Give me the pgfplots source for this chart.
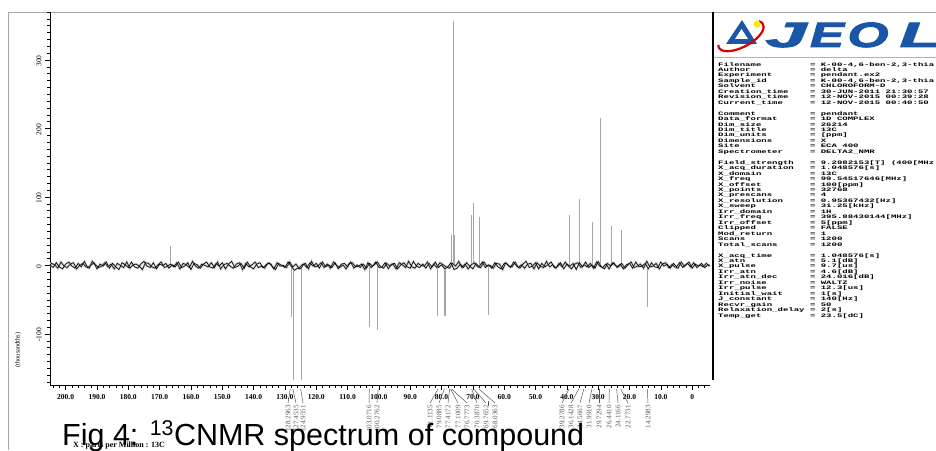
\documentclass[border=0pt]{standalone}
\usepackage{pgfplots}
\pgfplotsset{compat=1.18}
\usepackage{pgfplotstable}
\usepackage{fontspec}
\setmainfont{Liberation Serif}
\newfontfamily\capfont{Liberation Sans}
\newfontfamily\parfont{Liberation Mono}
\newfontfamily\logofont[BoldItalicFeatures={FakeBold=2.5}]{Liberation Sans}
\definecolor{jeolblue}{RGB}{26,86,168}

\pgfplotstableread{
x y
206 0
205 1
204 -3
203 4
202 -2
201 -5
200 2
199 5
198 -1
197 -4
196 3
195 -2
194 6
193 -3
192 0
191 4
190 -5
189 2
188 -1
187 5
186 -4
185 3
184 -2
183 -6
182 4
181 1
180 -3
179 5
178 -2
177 -4
176 2
175 6
174 -1
173 -3
172 4
171 -5
170 2
169 0
168 3
167 -4
166 1
165 -2
164 5
163 -3
162 -1
161 4
160 -6
159 3
158 1
157 -4
156 2
155 5
154 -2
153 -4
152 3
151 -1
150 4
149 -5
148 2
147 6
146 -3
145 -1
144 3
143 -4
142 5
141 -2
140 -5
139 2
138 4
137 -3
136 1
135 4
134 -2
133 -6
132 3
131 0
130 -3
129 5
128 -1
127 -7
126 -4
125 -5
124 2
123 -3
122 4
121 -1
120 3
119 -4
118 5
117 -2
116 1
115 -3
114 4
113 -5
112 2
111 3
110 -2
109 5
108 -4
107 1
106 -3
105 2
104 -4
103 3
102 -1
101 5
100 -3
99 -2
98 4
97 -5
96 2
95 3
94 -5
93 1
92 4
91 -2
90 -4
89 6
88 -1
87 -3
86 2
85 -4
84 3
83 -2
82 5
81 -3
80 1
79 -5
78 -2
77 4
76 -6
75 -4
74 2
73 -3
72 4
71 -1
70 -5
69 3
68 -2
67 5
66 -3
65 1
64 -4
63 4
62 -2
61 -5
60 3
59 2
58 -3
57 5
56 -1
55 -4
54 2
53 6
52 -3
51 -1
50 4
49 -5
48 3
47 -2
46 1
45 5
44 -3
43 -2
42 4
41 -5
40 2
39 -1
38 3
37 -6
36 4
35 -2
34 5
33 -3
32 1
31 -4
30 6
29 -2
28 -5
27 3
26 -1
25 4
24 -3
23 2
22 -5
21 1
20 3
19 -4
18 5
17 -2
16 -1
15 3
14 -5
13 4
12 -2
11 -3
10 5
9 -1
8 2
7 -4
6 3
5 -2
4 4
3 -3
2 1
1 5
0 -4
-1 2
-2 -1
-3 3
-4 -3
-5 1
-6 0
}\noiseA

\pgfplotstableread{
x y
205.5 -2
204.5 3
203.5 1
202.5 -4
201.5 5
200.5 -1
199.5 -3
198.5 2
197.5 4
196.5 -5
195.5 0
194.5 3
193.5 -2
192.5 -4
191.5 6
190.5 1
189.5 -3
188.5 -1
187.5 4
186.5 -2
185.5 2
184.5 -5
183.5 3
182.5 0
181.5 -3
180.5 5
179.5 -4
178.5 1
177.5 2
176.5 -1
175.5 -6
174.5 4
173.5 3
172.5 -2
171.5 -4
170.5 1
169.5 5
168.5 -3
167.5 -1
166.5 2
165.5 -2
164.5 4
163.5 -5
162.5 3
161.5 1
160.5 -3
159.5 6
158.5 -1
157.5 -4
156.5 2
155.5 0
154.5 -2
153.5 4
152.5 -3
151.5 5
150.5 -5
149.5 1
148.5 3
147.5 -1
146.5 -4
145.5 2
144.5 4
143.5 -6
142.5 3
141.5 -2
140.5 1
139.5 5
138.5 -3
137.5 -1
136.5 -4
135.5 3
134.5 2
133.5 -5
132.5 4
131.5 -1
130.5 0
129.5 -3
128.5 5
127.5 -2
126.5 2
125.5 -4
124.5 1
123.5 3
122.5 -5
121.5 6
120.5 -2
119.5 -1
118.5 4
117.5 -3
116.5 2
115.5 -4
114.5 5
113.5 0
112.5 -3
111.5 1
110.5 -5
109.5 3
108.5 4
107.5 -2
106.5 -1
105.5 2
104.5 -6
103.5 4
102.5 -3
101.5 1
100.5 5
99.5 -2
98.5 -4
97.5 3
96.5 -1
95.5 2
94.5 -5
93.5 4
92.5 1
91.5 -3
90.5 6
89.5 -2
88.5 -4
87.5 3
86.5 0
85.5 -1
84.5 5
83.5 -5
82.5 2
81.5 -3
80.5 4
79.5 1
78.5 -2
77.5 -4
76.5 3
75.5 -1
74.5 6
73.5 -3
72.5 2
71.5 -5
70.5 1
69.5 4
68.5 -2
67.5 -3
66.5 5
65.5 -1
64.5 0
63.5 -4
62.5 3
61.5 2
60.5 -6
59.5 4
58.5 -1
57.5 -2
56.5 5
55.5 -3
54.5 1
53.5 -4
52.5 2
51.5 3
50.5 -5
49.5 4
48.5 -1
47.5 -3
46.5 6
45.5 -2
44.5 1
43.5 -4
42.5 3
41.5 -2
40.5 5
39.5 -1
38.5 -5
37.5 2
36.5 4
35.5 -3
34.5 1
33.5 -2
32.5 3
31.5 -4
30.5 5
29.5 -1
28.5 -3
27.5 2
26.5 -5
25.5 4
24.5 0
23.5 -2
22.5 3
21.5 -4
20.5 1
19.5 5
18.5 -3
17.5 -1
16.5 2
15.5 -4
14.5 6
13.5 -2
12.5 -1
11.5 3
10.5 -5
9.5 2
8.5 4
7.5 -3
6.5 1
5.5 -2
4.5 -4
3.5 5
2.5 -1
1.5 3
0.5 -2
-0.5 4
-1.5 -3
-2.5 1
-3.5 -2
-4.5 3
-5.5 -1
}\noiseB

\pgfplotstableread{
x y
166.7 28
127.9 -75
127.2 -167
124.7 -167
103.1 -90
100.4 -94
81.4 -74
79.2 -74
78.7 -74
76.9 45
76.3 357
75.8 45
70.5 74
69.9 91
68.0 71
65.1 -72
39.2 74
36.1 97
31.7 64
29.3 215
25.9 57
22.6 52
14.2 -60
}\peaks

\begin{document}
\begin{tikzpicture}[x=1pt,y=1pt]
\useasboundingbox (0,0) rectangle (936,450);
\fill[white] (0,0) rectangle (936,450);
\draw[gray!70, line width=0.8pt] (8,438) -- (936,438);
\draw[gray!70, line width=0.8pt] (8,438) -- (8,0);

\begin{axis}[
  at={(50pt,65pt)}, anchor=south west, scale only axis,
  width=660pt, height=373pt,
  xmin=-5.7, xmax=205, x dir=reverse,
  ymin=-174.5, ymax=370,
  axis x line=bottom, axis y line=left,
  axis line style={-, line width=0.6pt, black},
  tick align=outside,
  xtick={-10,0,10,...,210},
  xticklabels={,0,10.0,20.0,30.0,40.0,50.0,60.0,70.0,80.0,90.0,100.0,110.0,120.0,130.0,140.0,150.0,160.0,170.0,180.0,190.0,200.0,},
  minor x tick num=4,
  ytick={-200,-100,0,100,200,300,400},
  yticklabels={,-100,0,100,200,300,},
  minor y tick num=9,
  major tick length=5pt, minor tick length=2.5pt,
  tick style={black, line width=0.4pt},
  xticklabel style={font=\fontsize{7.5}{8}\selectfont\bfseries, yshift=-1pt},
  yticklabel style={rotate=90, anchor=south, font=\fontsize{7.5}{8}\selectfont, xshift=-1pt},
]
\addplot[ycomb, gray!70, line width=0.7pt, no markers] table[x=x,y=y]{\peaks};
\addplot[gray!50, line width=2.2pt, no markers] table[x=x,y=y]{\noiseB};
\addplot[gray!50, line width=1.6pt, no markers] table[x=x,y=y]{\noiseA};
\addplot[black, line width=0.6pt, no markers] table[x=x,y=y]{\noiseA};
\addplot[black, line width=0.55pt, no markers] table[x=x,y=y]{\noiseB};
\end{axis}

% y label
\node[rotate=90, font=\fontsize{6.5}{7}\selectfont] at (18,100) {(thousandths)};

% peak leader lines and labels
\begin{scope}[gray!70!black, line width=0.5pt]
\foreach \ox/\lx/\t in {290.3/288/128.2963, 292.9/296/127.4535, 300.7/303/124.9551,
  369.3/369/103.0716, 378.1/377/100.2762,
  438.0/430/81.1135, 444.4/439/79.0885, 449.6/448/77.4172, 450.6/458/77.1009, 451.6/467/76.7773,
  471.6/477/70.3870, 473.6/486/69.7652, 479.0/495/68.0363,
  569.0/562/39.2786, 578.8/571/36.1428, 583.8/580/34.5667, 591.9/589/31.9910, 599.0/599/29.7294,
  609.3/609/26.4410, 616.6/618/24.1166, 620.8/628/22.7731, 647.3/648/14.2983}
{
  \draw (\ox,61) -- (\lx,47);
  \node[rotate=90, anchor=east, inner sep=0, font=\fontsize{7}{7}\selectfont] at (\lx,45) {\t};
}
\draw (488,49) -- (488,44);
\end{scope}

% axis unit text and caption
\node[anchor=north west, inner sep=0, font=\fontsize{8}{8}\selectfont\bfseries] at (73,8) {X : parts per Million : 13C};
\node[anchor=base west, inner sep=0, font=\capfont\fontsize{30.5}{31}\selectfont] at (62,5) {Fig 4: \textsuperscript{13}CNMR spectrum of compound};

% right panel
\draw[black, line width=1.4pt] (713,438) -- (713,70);
\draw[gray!60, line width=0.6pt] (714,393) -- (936,393);

% logo
\fill[jeolblue] (742,430) -- (726,406) -- (757,406) -- cycle;
\fill[white] (741.5,421) -- (735,411) -- (748,411) -- cycle;
\draw[red!85!black, line width=2.2pt, rotate around={28:(741,414)}]
  ([shift={(165:25 and 11)}]741,414) arc[start angle=165, end angle=385, x radius=25, y radius=11];
\fill[yellow!90!orange] (757,426) circle (3.5);
\foreach \cx/\sx/\l in {786/2.1/J, 827/1.45/E, 868/1.5/O, 920/1.9/L}
  \node[anchor=base, inner sep=0, text=jeolblue] at (\cx,403) {\scalebox{\sx}[1]{\logofont\fontsize{35}{35}\selectfont\bfseries\itshape \l}};

% parameter block
\node[anchor=north west, inner sep=0] at (718,388) {\scalebox{1}[0.58]{\parfont\bfseries\fontsize{9.0}{9.4}\selectfont
\begin{tabular}{@{}l@{\hspace{0.6em}}l@{}}
Filename & = K-00-4,6-ben-2,3-thia\\
Author & = delta\\
Experiment & = pendant.ex2\\
Sample\_id & = K-00-4,6-ben-2,3-thia\\
Solvent & = CHLOROFORM-D\\
Creation\_time & = 30-JUN-2011 21:30:57\\
Revision\_time & = 12-NOV-2015 00:39:28\\
Current\_time & = 12-NOV-2015 00:40:50\\
 & \\
Comment & = pendant\\
Data\_format & = 1D COMPLEX\\
Dim\_size & = 26214\\
Dim\_title & = 13C\\
Dim\_units & = [ppm]\\
Dimensions & = X\\
Site & = ECA 400\\
Spectrometer & = DELTA2\_NMR\\
 & \\
Field\_strength & = 9.2982153[T] (400[MHz\\
X\_acq\_duration & = 1.048576[s]\\
X\_domain & = 13C\\
X\_freq & = 99.54517646[MHz]\\
X\_offset & = 100[ppm]\\
X\_points & = 32768\\
X\_prescans & = 4\\
X\_resolution & = 0.95367432[Hz]\\
X\_sweep & = 31.25[kHz]\\
Irr\_domain & = 1H\\
Irr\_freq & = 395.88430144[MHz]\\
Irr\_offset & = 5[ppm]\\
Clipped & = FALSE\\
Mod\_return & = 1\\
Scans & = 1200\\
Total\_scans & = 1200\\
 & \\
X\_acq\_time & = 1.048576[s]\\
X\_atn & = 5.1[dB]\\
X\_pulse & = 9.7[us]\\
Irr\_atn & = 4.6[dB]\\
Irr\_atn\_dec & = 24.016[dB]\\
Irr\_noise & = WALTZ\\
Irr\_pulse & = 12.3[us]\\
Initial\_wait & = 1[s]\\
J\_constant & = 140[Hz]\\
Recvr\_gain & = 50\\
Relaxation\_delay & = 2[s]\\
Temp\_get & = 23.5[dC]\\
\end{tabular}}};
\end{tikzpicture}
\end{document}
